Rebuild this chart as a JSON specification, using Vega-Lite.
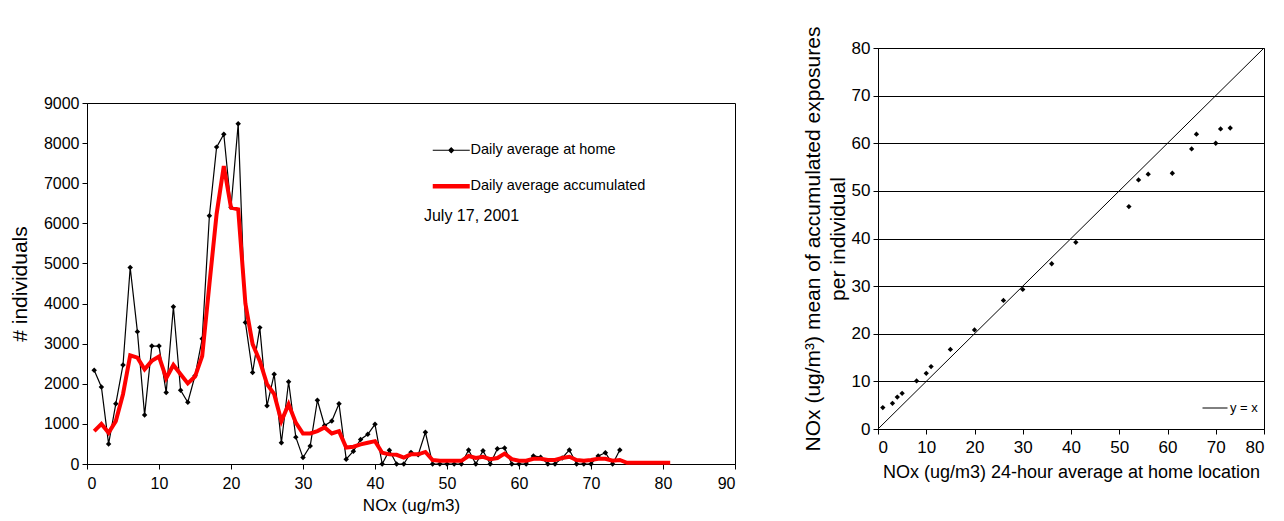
{
  "$schema": "https://vega.github.io/schema/vega-lite/v6.json",
  "background": "white",
  "padding": {"left": 8, "top": 25, "right": 5, "bottom": 5},
  "spacing": 65,
  "config": {
    "font": "Liberation Sans",
    "view": {"stroke": "black", "strokeWidth": 1},
    "axis": {
      "domainColor": "black", "tickColor": "black", "labelColor": "black", "titleColor": "black",
      "labelFont": "Liberation Sans", "titleFont": "Liberation Sans", "titleFontWeight": "normal",
      "grid": false, "tickSize": 5, "labelPadding": 3, "format": "d"
    },
    "legend": {"labelFont": "Liberation Sans", "labelColor": "black", "labelLimit": 0}
  },
  "datasets": {
    "home": [
      {"nox": 1, "n": 2340}, {"nox": 2, "n": 1920}, {"nox": 3, "n": 500}, {"nox": 4, "n": 1500},
      {"nox": 5, "n": 2470}, {"nox": 6, "n": 4900}, {"nox": 7, "n": 3300}, {"nox": 8, "n": 1220},
      {"nox": 9, "n": 2940}, {"nox": 10, "n": 2940}, {"nox": 11, "n": 1780}, {"nox": 12, "n": 3920},
      {"nox": 13, "n": 1840}, {"nox": 14, "n": 1540}, {"nox": 15, "n": 2200}, {"nox": 16, "n": 3120},
      {"nox": 17, "n": 6190}, {"nox": 18, "n": 7900}, {"nox": 19, "n": 8220}, {"nox": 20, "n": 6400},
      {"nox": 21, "n": 8480}, {"nox": 22, "n": 3530}, {"nox": 23, "n": 2280}, {"nox": 24, "n": 3400},
      {"nox": 25, "n": 1450}, {"nox": 26, "n": 2240}, {"nox": 27, "n": 530}, {"nox": 28, "n": 2050},
      {"nox": 29, "n": 670}, {"nox": 30, "n": 160}, {"nox": 31, "n": 450}, {"nox": 32, "n": 1590},
      {"nox": 33, "n": 960}, {"nox": 34, "n": 1070}, {"nox": 35, "n": 1500}, {"nox": 36, "n": 120},
      {"nox": 37, "n": 320}, {"nox": 38, "n": 610}, {"nox": 39, "n": 740}, {"nox": 40, "n": 990},
      {"nox": 41, "n": 0}, {"nox": 42, "n": 340}, {"nox": 43, "n": 0}, {"nox": 44, "n": 0},
      {"nox": 45, "n": 290}, {"nox": 46, "n": 230}, {"nox": 47, "n": 790}, {"nox": 48, "n": 0},
      {"nox": 49, "n": 0}, {"nox": 50, "n": 0}, {"nox": 51, "n": 0}, {"nox": 52, "n": 0},
      {"nox": 53, "n": 350}, {"nox": 54, "n": 0}, {"nox": 55, "n": 330}, {"nox": 56, "n": 0},
      {"nox": 57, "n": 380}, {"nox": 58, "n": 400}, {"nox": 59, "n": 0}, {"nox": 60, "n": 0},
      {"nox": 61, "n": 0}, {"nox": 62, "n": 200}, {"nox": 63, "n": 170}, {"nox": 64, "n": 0},
      {"nox": 65, "n": 0}, {"nox": 66, "n": 150}, {"nox": 67, "n": 350}, {"nox": 68, "n": 0},
      {"nox": 69, "n": 0}, {"nox": 70, "n": 0}, {"nox": 71, "n": 200}, {"nox": 72, "n": 280},
      {"nox": 73, "n": 0}, {"nox": 74, "n": 350}
    ],
    "accum": [
      {"nox": 1, "n": 820}, {"nox": 2, "n": 1000}, {"nox": 3, "n": 780}, {"nox": 4, "n": 1070},
      {"nox": 5, "n": 1740}, {"nox": 6, "n": 2710}, {"nox": 7, "n": 2650}, {"nox": 8, "n": 2360},
      {"nox": 9, "n": 2570}, {"nox": 10, "n": 2680}, {"nox": 11, "n": 2140}, {"nox": 12, "n": 2470},
      {"nox": 13, "n": 2240}, {"nox": 14, "n": 2010}, {"nox": 15, "n": 2180}, {"nox": 16, "n": 2690},
      {"nox": 17, "n": 4480}, {"nox": 18, "n": 6230}, {"nox": 19, "n": 7430}, {"nox": 20, "n": 6390},
      {"nox": 21, "n": 6350}, {"nox": 22, "n": 4000}, {"nox": 23, "n": 2990}, {"nox": 24, "n": 2570},
      {"nox": 25, "n": 1990}, {"nox": 26, "n": 1740}, {"nox": 27, "n": 1070}, {"nox": 28, "n": 1490},
      {"nox": 29, "n": 1030}, {"nox": 30, "n": 760}, {"nox": 31, "n": 760}, {"nox": 32, "n": 820},
      {"nox": 33, "n": 910}, {"nox": 34, "n": 760}, {"nox": 35, "n": 820}, {"nox": 36, "n": 410},
      {"nox": 37, "n": 430}, {"nox": 38, "n": 490}, {"nox": 39, "n": 530}, {"nox": 40, "n": 570},
      {"nox": 41, "n": 280}, {"nox": 42, "n": 240}, {"nox": 43, "n": 230}, {"nox": 44, "n": 160},
      {"nox": 45, "n": 240}, {"nox": 46, "n": 240}, {"nox": 47, "n": 300}, {"nox": 48, "n": 100},
      {"nox": 49, "n": 80}, {"nox": 50, "n": 80}, {"nox": 51, "n": 80}, {"nox": 52, "n": 80},
      {"nox": 53, "n": 200}, {"nox": 54, "n": 150}, {"nox": 55, "n": 180}, {"nox": 56, "n": 120},
      {"nox": 57, "n": 150}, {"nox": 58, "n": 260}, {"nox": 59, "n": 120}, {"nox": 60, "n": 80},
      {"nox": 61, "n": 80}, {"nox": 62, "n": 130}, {"nox": 63, "n": 130}, {"nox": 64, "n": 100},
      {"nox": 65, "n": 100}, {"nox": 66, "n": 150}, {"nox": 67, "n": 180}, {"nox": 68, "n": 100},
      {"nox": 69, "n": 80}, {"nox": 70, "n": 100}, {"nox": 71, "n": 130}, {"nox": 72, "n": 130},
      {"nox": 73, "n": 80}, {"nox": 74, "n": 100}, {"nox": 75, "n": 30}, {"nox": 76, "n": 30},
      {"nox": 77, "n": 30}, {"nox": 78, "n": 30}, {"nox": 79, "n": 30}, {"nox": 80, "n": 30},
      {"nox": 81, "n": 30}
    ],
    "scatter": [
      {"home": 1, "accum": 4.5}, {"home": 3, "accum": 5.4}, {"home": 4, "accum": 6.7},
      {"home": 5, "accum": 7.5}, {"home": 8, "accum": 10.1}, {"home": 10, "accum": 11.7},
      {"home": 11, "accum": 13.1}, {"home": 15, "accum": 16.7}, {"home": 20, "accum": 20.8},
      {"home": 26, "accum": 27.0}, {"home": 30, "accum": 29.3}, {"home": 36, "accum": 34.7},
      {"home": 41, "accum": 39.2}, {"home": 52, "accum": 46.7}, {"home": 54, "accum": 52.3},
      {"home": 56, "accum": 53.5}, {"home": 61, "accum": 53.7}, {"home": 65, "accum": 58.8},
      {"home": 66, "accum": 61.9}, {"home": 70, "accum": 60.0}, {"home": 71, "accum": 63.0},
      {"home": 73, "accum": 63.2}
    ],
    "diag": [
      {"home": 0, "accum": 0, "series": "y = x"}, {"home": 80, "accum": 80, "series": "y = x"}
    ]
  },
  "hconcat": [
    {
      "spacing": 26,
      "vconcat": [
        {
          "width": 648,
          "height": 20,
          "view": {"stroke": null},
          "data": {"values": []},
          "mark": {"type": "rule"},
          "encoding": {}
        },
        {
          "width": 648,
          "height": 361,
          "layer": [
            {
              "data": {"name": "home"},
              "mark": {"type": "line", "strokeWidth": 1.2},
              "encoding": {
                "x": {"field": "nox", "type": "quantitative", "scale": {"domain": [0, 90], "nice": false},
                  "axis": {"values": [0, 10, 20, 30, 40, 50, 60, 70, 80, 90], "title": "NOx (ug/m3)", "labelFontSize": 16, "titleFontSize": 17, "titlePadding": 6, "labelPadding": 6}},
                "y": {"field": "n", "type": "quantitative", "scale": {"domain": [0, 9000], "nice": false},
                  "axis": {"values": [0, 1000, 2000, 3000, 4000, 5000, 6000, 7000, 8000, 9000], "title": "# individuals", "labelFontSize": 16, "titleFontSize": 21, "titlePadding": 13}},
                "color": {"datum": "Daily average at home", "type": "nominal",
                  "scale": {"domain": ["Daily average at home", "Daily average accumulated"], "range": ["black", "#ff0000"]},
                  "legend": {
                    "title": null, "orient": "none", "legendX": 357, "legendY": 95,
                    "symbolType": "stroke", "symbolSize": 1369, "labelFontSize": 14.5, "labelOffset": 12, "rowPadding": 20,
                    "encode": {
                      "symbols": {"update": {
                        "shape": {"signal": "datum.value == 'Daily average at home' ? 'M-1,0L1,0M0,-0.13L0.13,0L0,0.13L-0.13,0Z' : 'M-1,0L1,0'"},
                        "strokeWidth": {"signal": "datum.value == 'Daily average at home' ? 1.2 : 4.5"},
                        "fill": {"value": "black"}
                      }}
                    }
                  }}
              }
            },
            {
              "data": {"name": "home"},
              "mark": {"type": "point", "shape": "diamond", "filled": true, "color": "black", "size": 30, "opacity": 1},
              "encoding": {
                "x": {"field": "nox", "type": "quantitative"},
                "y": {"field": "n", "type": "quantitative"}
              }
            },
            {
              "data": {"name": "accum"},
              "mark": {"type": "line", "strokeWidth": 4},
              "encoding": {
                "x": {"field": "nox", "type": "quantitative"},
                "y": {"field": "n", "type": "quantitative"},
                "color": {"datum": "Daily average accumulated", "type": "nominal"}
              }
            },
            {
              "data": {"values": [{}]},
              "mark": {"type": "text", "align": "left", "baseline": "middle", "fontSize": 16, "color": "black"},
              "encoding": {
                "x": {"datum": 46.8, "type": "quantitative"},
                "y": {"datum": 6180, "type": "quantitative"},
                "text": {"value": "July 17, 2001"}
              }
            }
          ]
        }
      ]
    },
    {
      "width": 386,
      "height": 381,
      "layer": [
        {
          "data": {"name": "diag"},
          "mark": {"type": "line", "strokeWidth": 1},
          "encoding": {
            "x": {"field": "home", "type": "quantitative", "scale": {"domain": [0, 80], "nice": false},
              "axis": {"values": [0, 10, 20, 30, 40, 50, 60, 70, 80], "title": "NOx (ug/m3) 24-hour average at home location", "labelFontSize": 17, "titleFontSize": 18, "titlePadding": 8, "labelPadding": 5}},
            "y": {"field": "accum", "type": "quantitative", "scale": {"domain": [0, 80], "nice": false},
              "axis": {"values": [0, 10, 20, 30, 40, 50, 60, 70, 80], "grid": true, "gridColor": "black", "gridWidth": 1, "gridOpacity": 1,
                "title": ["NOx (ug/m³) mean of accumulated exposures", "per individual"], "labelFontSize": 17, "titleFontSize": 21, "titleLineHeight": 25, "titlePadding": 3}},
            "color": {"field": "series", "type": "nominal", "scale": {"range": ["black"]},
              "legend": {"title": null, "orient": "none", "legendX": 324, "legendY": 347, "symbolType": "stroke", "symbolSize": 625, "symbolStrokeWidth": 1, "labelFontSize": 13, "labelOffset": 2}}
          }
        },
        {
          "data": {"name": "scatter"},
          "mark": {"type": "point", "shape": "diamond", "filled": true, "color": "black", "size": 28, "opacity": 1},
          "encoding": {
            "x": {"field": "home", "type": "quantitative"},
            "y": {"field": "accum", "type": "quantitative"}
          }
        }
      ]
    }
  ],
  "resolve": {"scale": {"color": "independent"}, "legend": {"color": "independent"}}
}
